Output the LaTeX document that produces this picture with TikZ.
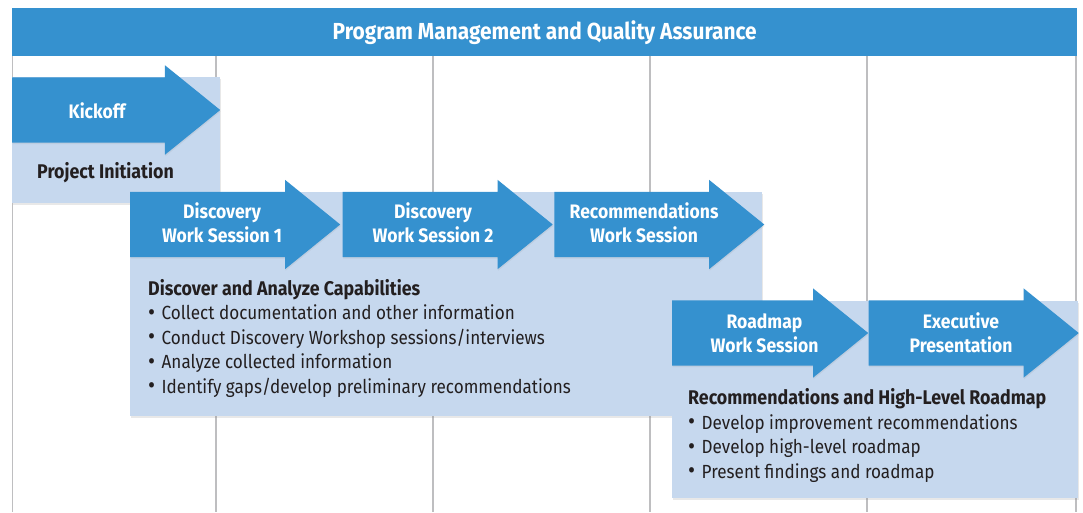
\documentclass[tikz,border=0pt]{standalone}
\usepackage{fontspec}
\setmainfont{Fira Sans}[FakeStretch=0.9]
\usepackage{tikz}
\usetikzlibrary{arrows,positioning,shapes.arrows,shadows}

\definecolor{barblue}{RGB}{53,145,207}
\definecolor{phaseblue}{RGB}{198,216,238}
\definecolor{gridgrey}{RGB}{190,190,192}
\definecolor{inkdark}{RGB}{35,31,32}
\newcommand\phasehead{\bfseries\fontsize{19.8}{24.5}\selectfont}
\newcommand\bul{\raisebox{-0.6pt}{\fontsize{24}{24}\selectfont•}\hspace{6.5pt}}

\begin{document}
\begin{tikzpicture}[x=1pt,y=-1pt,every node/.style={inner sep=0pt},
    stage/.style={single arrow,fill=barblue,minimum height=210pt,inner xsep=0pt,inner ysep=32.5pt,
                  single arrow head extend=12pt,single arrow tip angle=78,anchor=tail,
                  drop shadow={opacity=0.12,shadow xshift=0.5pt,shadow yshift=-1.5pt}},
    stagetext/.style={text=white,font=\bfseries\fontsize{19.5}{24}\selectfont,align=center},
    phase/.style={fill=phaseblue,anchor=north west,
                  drop shadow={opacity=0.18,shadow xshift=1pt,shadow yshift=-2pt}},
    phasetext/.style={text=inkdark,font=\fontsize{19}{24.5}\selectfont,align=left},
    gridline/.style={draw=gridgrey,line width=1.2pt}]
  \useasboundingbox (0,0) rectangle (1083,512);

  \foreach \x in {12.5,216,433,650,867,1076}
    \draw[gridline] (\x,56) -- (\x,512);

  \node[fill=barblue,minimum width=1065pt,minimum height=48pt,anchor=north west,
        text=white,font=\bfseries\fontsize{23.2}{28}\selectfont] (pmqa) at (12,8)
        {Program Management and Quality Assurance};

  % project initiation
  \node[phase,minimum width=208pt,minimum height=126pt] (initiation) at (12,77) {};
  \node[stage,minimum height=208pt,
        label={[stagetext,xshift=1pt,yshift=-1pt]center:Kickoff}] (kickoff) at (12,110) {};
  \node[phasetext,font=\phasehead,anchor=base west]
        (initiation-text) at (37,178.5) {Project Initiation};

  % discovery
  \node[phase,minimum width=632pt,minimum height=224pt] (discover) at (130,192) {};
  \node[stage,label={[stagetext,xshift=7pt,yshift=1.5pt]center:{Discovery\\Work Session 1}}]
        (ws1) at (130,224.5) {};
  \node[stage,label={[stagetext,xshift=5.5pt,yshift=1.5pt]center:{Discovery\\Work Session 2}}]
        (ws2) [right=2pt of ws1] {};
  \node[stage,label={[stagetext,xshift=5pt,yshift=1.5pt]center:{Recommendations\\Work Session}}]
        (recws) [right=1pt of ws2] {};
  \node[phasetext,anchor=north west] (discover-text) at (148,279)
        {{\phasehead Discover and Analyze Capabilities}\\
         \bul Collect documentation and other information\\
         \bul Conduct Discovery Workshop sessions/interviews\\
         \bul Analyze collected information\\
         \bul Identify gaps/develop preliminary recommendations};

  % roadmap
  \node[phase,minimum width=406pt,minimum height=197pt] (roadmap) at (672,301) {};
  \node[stage,minimum height=196pt,
        label={[stagetext,xshift=14.5pt]center:{Roadmap\\Work Session}}] (roadws) at (672,333) {};
  \node[stage,label={[stagetext,xshift=7.5pt]center:{Executive\\Presentation}}]
        (exec) [right=0pt of roadws] {};
  \node[phasetext,anchor=north west] (roadmap-text) at (688,388.5)
        {{\phasehead Recommendations and High-Level Roadmap}\\
         \bul Develop improvement recommendations\\
         \bul Develop high-level roadmap\\
         \bul Present findings and roadmap};
\end{tikzpicture}
\end{document}
